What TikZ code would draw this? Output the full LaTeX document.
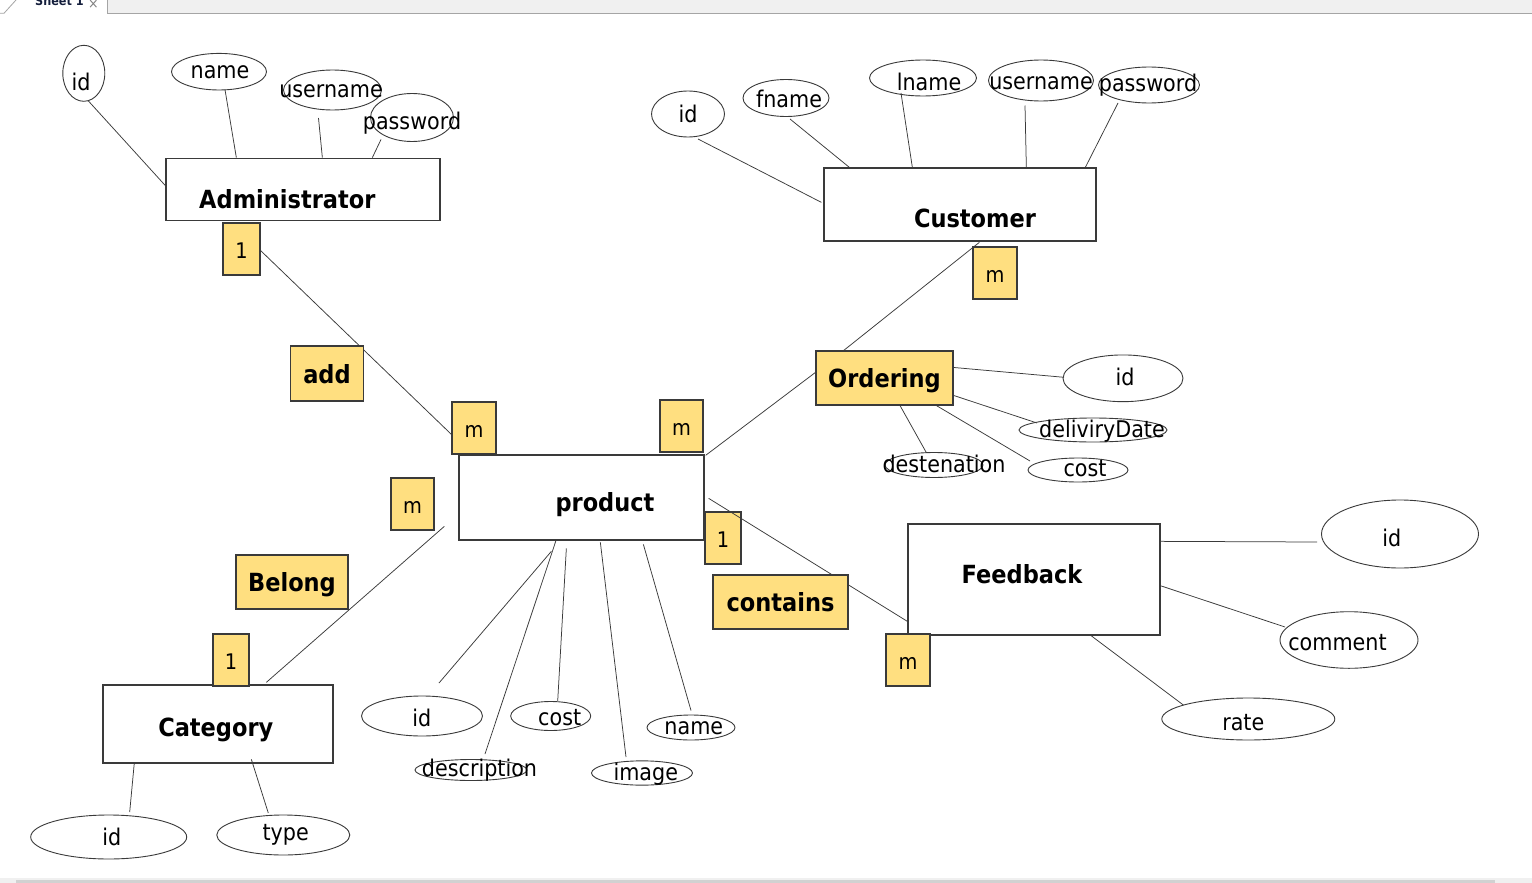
\documentclass[tikz,border=0pt]{standalone}
\usepackage{fontspec}
\setmainfont{DejaVu Sans}[FakeStretch=0.9]
\usetikzlibrary{shapes.geometric,calc}
\definecolor{relyel}{RGB}{255,223,128}
\definecolor{edgec}{RGB}{58,58,58}
\definecolor{tabgrey}{RGB}{240,240,240}
\definecolor{tabline}{RGB}{165,165,165}
\definecolor{tabtext}{RGB}{20,30,60}
\tikzset{
  entity/.style={draw=edgec, line width=1.3pt, fill=white, rectangle, inner sep=0pt},
  relbox/.style={draw=edgec, line width=1.3pt, fill=relyel, rectangle, inner sep=0pt,
     font=\fontsize{25}{30}\selectfont\bfseries, text height=19pt, text depth=0pt},
  cardbox/.style={draw=edgec, line width=1.2pt, fill=relyel, rectangle, inner sep=0pt,
     font=\fontsize{21.5}{26}\selectfont, text height=19pt, text depth=0pt},
  attr/.style={draw=edgec, line width=0.9pt, fill=white, ellipse, inner sep=0pt},
  conn/.style={draw=edgec, line width=0.75pt},
  etext/.style={font=\fontsize{25}{30}\selectfont\bfseries, inner sep=0pt, anchor=base},
  atext/.style={font=\fontsize{23}{27}\selectfont, inner sep=0pt, anchor=base},
}
\begin{document}
\begin{tikzpicture}[x=1pt,y=-1pt]
\useasboundingbox (0,0) rectangle (1532,883);
\begin{scope}
\clip (0,0) rectangle (1532,883);
\fill[white] (0,0) rectangle (1532,883);
% --- tab strip ---
\fill[tabgrey] (107,0) rectangle (1532,13.3);
\draw[tabline, line width=0.8pt] (0,13.3) -- (4,13.3) -- (16,0);
\draw[tabline, line width=0.8pt] (107,0) -- (107,13.3) -- (1532,13.3);
\node[font=\fontsize{12.5}{14}\selectfont\bfseries, text=tabtext, inner sep=0pt, anchor=base west] (tabname) at (35,5.5) {Sheet 1};
\node[font=\fontsize{14}{16}\selectfont, text=gray, inner sep=0pt, anchor=base west] (tabx) at (88,8.5) {×};
% --- bottom bar ---
\fill[tabgrey] (0,878) rectangle (1532,883);
\fill[black!18] (16,879.5) rectangle (1495,883);

% --- entities ---
\node[entity, minimum width=274pt, minimum height=62.5pt] (admin) at (303,189.5) {};
\node[entity, minimum width=272pt, minimum height=73pt] (cust) at (960,204.5) {};
\node[entity, minimum width=245pt, minimum height=85pt] (prod) at (581.5,497.5) {};
\node[entity, minimum width=252pt, minimum height=111pt] (feed) at (1034,579.5) {};
\node[entity, minimum width=230pt, minimum height=78pt] (cat) at (218,724) {};

% --- attributes (ellipses) ---
\node[attr, minimum width=42pt, minimum height=56pt] (aid) at (83.8,73.3) {};
\node[attr, minimum width=95pt, minimum height=36.6pt] (aname) at (219,71.7) {};
\node[attr, minimum width=98pt, minimum height=40pt] (auser) at (332.5,90) {};
\node[attr, minimum width=83pt, minimum height=48pt] (apass) at (412,117.5) {};

\node[attr, minimum width=73pt, minimum height=46pt] (cid) at (688,114) {};
\node[attr, minimum width=86pt, minimum height=37pt] (cfname) at (786,98) {};
\node[attr, minimum width=107pt, minimum height=36pt] (clname) at (923,78) {};
\node[attr, minimum width=105pt, minimum height=41pt] (cuser) at (1041,80.5) {};
\node[attr, minimum width=101pt, minimum height=36pt] (cpass) at (1149,85) {};

\node[attr, minimum width=120pt, minimum height=46.7pt] (oid) at (1123,378.3) {};
\node[attr, minimum width=148pt, minimum height=24pt] (odate) at (1093,430) {};
\node[attr, minimum width=100pt, minimum height=24pt] (ocost) at (1078,470) {};
\node[attr, minimum width=98pt, minimum height=25pt] (odest) at (934,465) {};

\node[attr, minimum width=121pt, minimum height=40pt] (pid) at (422,716) {};
\node[attr, minimum width=80pt, minimum height=29pt] (pcost) at (550.7,716) {};
\node[attr, minimum width=88pt, minimum height=25pt] (pname) at (691,727.5) {};
\node[attr, minimum width=112pt, minimum height=21pt] (pdesc) at (471,770) {};
\node[attr, minimum width=101pt, minimum height=24.3pt] (pimage) at (642,773) {};

\node[attr, minimum width=156pt, minimum height=44pt] (catid) at (108.7,837) {};
\node[attr, minimum width=133pt, minimum height=40pt] (cattype) at (283.3,835) {};

\node[attr, minimum width=157pt, minimum height=68pt] (fid) at (1400,534) {};
\node[attr, minimum width=138pt, minimum height=56.6pt] (fcom) at (1349,640) {};
\node[attr, minimum width=173pt, minimum height=42pt] (frate) at (1248.3,719) {};

% --- attribute connectors ---
\draw[conn] ($(aid)+(4,27)$) -- ($(admin.north west)+(0,28)$);
\draw[conn] ($(aname)+(6,18)$) -- ($(admin.north west)+(71,0)$);
\draw[conn] ($(auser)+(-14,28)$) -- ($(admin.north west)+(157,0)$);
\draw[conn] ($(apass)+(-31,22)$) -- ($(admin.north west)+(207,0)$);

\draw[conn] ($(cid)+(10,25)$) -- ($(cust.north west)+(-2,35)$);
\draw[conn] ($(cfname)+(4,21)$) -- ($(cust.north west)+(26,0)$);
\draw[conn] ($(clname)+(-22,15)$) -- ($(cust.north west)+(89,0)$);
\draw[conn] ($(cuser)+(-16,25)$) -- ($(cust.north west)+(203,0)$);
\draw[conn] ($(cpass)+(-31,18)$) -- ($(cust.north west)+(262,0)$);

\draw[conn] ($(prod.north west)+(93,97)$) -- ($(pid)+(17,-33)$);
\draw[conn] ($(prod.north west)+(98,85)$) -- ($(pdesc)+(14,-16)$);
\draw[conn] ($(prod.north west)+(108,94)$) -- ($(pcost)+(7,-15)$);
\draw[conn] ($(prod.north west)+(142,88)$) -- ($(pimage)+(-16,-16)$);
\draw[conn] ($(prod.north west)+(185,90)$) -- ($(pname)+(0,-17)$);

\draw[conn] ($(cat.north west)+(32,78)$) -- ($(catid)+(21,-25)$);
\draw[conn] ($(cat.north west)+(149,75)$) -- ($(cattype)+(-15,-22)$);

\draw[conn] ($(feed.north west)+(252,18)$) -- ($(fid)+(-83,8)$);
\draw[conn] ($(feed.north west)+(252,62)$) -- ($(fcom)+(-64,-13)$);
\draw[conn] ($(feed.north west)+(182,111)$) -- ($(frate)+(-65,-14)$);

% --- cardinalities ---
\node[cardbox, minimum width=37pt, minimum height=52pt] (c1) at (241.5,249) {1};
\node[cardbox, minimum width=44pt, minimum height=52pt] (c2) at (474,428) {m};
\node[cardbox, minimum width=43pt, minimum height=52pt] (c3) at (681.5,426) {m};
\node[cardbox, minimum width=43pt, minimum height=52pt] (c4) at (412.5,504) {m};
\node[cardbox, minimum width=36pt, minimum height=52pt] (c5) at (723,538) {1};
\node[cardbox, minimum width=44pt, minimum height=52pt] (c6) at (995,273) {m};
\node[cardbox, minimum width=44pt, minimum height=52pt] (c7) at (908,660) {m};
\node[cardbox, minimum width=36pt, minimum height=52pt] (c8) at (231,660) {1};

% --- relationship box positions ---
\path (327,373.5) coordinate (addc) (884.5,378) coordinate (ordc)
      (292,582) coordinate (belc) (780.5,602) coordinate (conc);
\path (ordc) ++(-68.5,-27) coordinate (ordnw);

% relationship lines (drawn before their boxes so the boxes sit on top)
\draw[conn] ($(c1.north west)+(37,27)$) -- ($(c2.north west)+(0,33)$);
\draw[conn] ($(prod.north west)+(-14,72)$) -- ($(cat.north west)+(164,-2)$);
\draw[conn] ($(prod.north east)+(4,44)$) -- ($(feed.north west)+(0,98)$);
\draw[conn] ($(ordnw)+(27,0)$) -- ($(cust.north west)+(156,75)$);
\draw[conn] ($(ordnw)+(0,21)$) -- ($(prod.north east)+(1,1)$);

\node[relbox, minimum width=73pt, minimum height=55pt] (add) at (addc) {add};
\node[relbox, minimum width=137pt, minimum height=54pt] (ord) at (ordc) {Ordering};
\node[relbox, minimum width=112pt, minimum height=54pt] (belong) at (belc) {Belong};
\node[relbox, minimum width=135pt, minimum height=54pt] (contains) at (conc) {contains};

% ordering attribute connectors
\draw[conn] ($(ord.north west)+(137,17)$) -- ($(oid)+(-59,-1)$);
\draw[conn] ($(ord.north west)+(138,45)$) -- ($(odate)+(-56,-7)$);
\draw[conn] ($(ord.north west)+(119,54)$) -- ($(ocost)+(-48,-9)$);
\draw[conn] ($(ord.north west)+(84,54)$) -- ($(odest)+(-8,-13)$);

% --- texts ---
\node[etext] (tadmin) at (287.3,208) {Administrator};
\node[etext] (tcust) at (975,227) {Customer};
\node[etext] (tprod) at (605,511.5) {product};
\node[etext] (tfeed) at (1022,583) {Feedback};
\node[etext] (tcat) at (215.8,736) {Category};

\node[atext] (taid) at (81,91) {id};
\node[atext] (taname) at (220,78) {name};
\node[atext] (tauser) at (331,98) {username};
\node[atext] (tapass) at (412,129) {password};

\node[atext] (tcid) at (688,122) {id};
\node[atext] (tcfname) at (789,107) {fname};
\node[atext] (tclname) at (929,90) {lname};
\node[atext] (tcuser) at (1041,89) {username};
\node[atext] (tcpass) at (1148,92) {password};

\node[atext] (toid) at (1125,385) {id};
\node[atext] (todate) at (1102,437) {deliviryDate};
\node[atext] (tocost) at (1085,476.5) {cost};
\node[atext] (todest) at (944,472.5) {destenation};

\node[atext] (tpid) at (421.7,726.5) {id};
\node[atext] (tpcost) at (559.7,725) {cost};
\node[atext] (tpname) at (693.8,734) {name};
\node[atext] (tpdesc) at (479.5,776) {description};
\node[atext] (tpimage) at (645.8,780) {image};

\node[atext] (tcatid) at (111.7,845) {id};
\node[atext] (tcattype) at (285.7,840.5) {type};

\node[atext] (tfid) at (1391.7,546) {id};
\node[atext] (tfcom) at (1337.5,650) {comment};
\node[atext] (tfrate) at (1243.3,730.5) {rate};
\end{scope}
\end{tikzpicture}
\end{document}
